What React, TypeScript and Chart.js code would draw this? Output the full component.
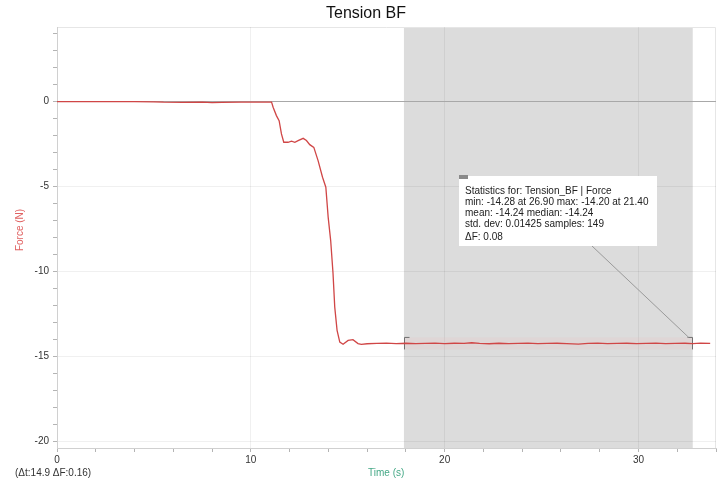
import React, { useEffect, useRef } from "react";
import { Chart, registerables } from "chart.js";

Chart.register(...registerables);

// Tension_BF run: time (s) and force (N)
const timeS = [
  0, 1, 2, 3, 4, 5, 5.5, 6.5, 7.5, 8, 8.5, 9.5, 10.5, 11.0,
  11.07, 11.15, 11.32, 11.46, 11.58, 11.7, 11.92, 12.1, 12.27, 12.44, 12.7,
  12.87, 13.04, 13.25, 13.47, 13.7, 13.87, 13.99, 14.12, 14.24, 14.33, 14.45,
  14.59, 14.76, 15.02, 15.27, 15.53, 15.7,
  16.0, 16.5, 17.0, 17.5, 18.0, 18.5, 19.0, 19.5, 20.0, 20.5, 21.0, 21.4,
  21.8, 22.3, 22.8, 23.3, 23.8, 24.3, 24.8, 25.3, 25.8, 26.3, 26.9, 27.4,
  27.9, 28.4, 28.9, 29.4, 29.9, 30.4, 30.9, 31.4, 31.9, 32.4, 32.8, 33.2, 33.7,
];

const forceN = [
  0.0, 0.0, 0.0, 0.0, 0.0, -0.01, -0.03, -0.04, -0.03, -0.05, -0.04, -0.03, -0.02, -0.02,
  -0.02, -0.33, -0.82, -1.12, -1.9, -2.39, -2.39, -2.33, -2.39, -2.29, -2.16,
  -2.29, -2.53, -2.69, -3.47, -4.45, -5.04, -6.8, -8.18, -10.1, -12.1, -13.47,
  -14.16, -14.29, -14.06, -14.02, -14.25, -14.29,
  -14.26, -14.24, -14.22, -14.25, -14.23, -14.25, -14.24, -14.22, -14.25, -14.23, -14.24, -14.2,
  -14.24, -14.26, -14.23, -14.25, -14.24, -14.22, -14.25, -14.24, -14.23, -14.25, -14.28, -14.24,
  -14.22, -14.25, -14.24, -14.23, -14.25, -14.24, -14.22, -14.25, -14.24, -14.23, -14.25, -14.22, -14.24,
];

// Axis labels
const xLabelValues = [0, 10, 20, 30];
const yLabelValues = [0, -5, -10, -15, -20];

// Selected region and its statistics
const selectionStart = 17.9;
const selectionEnd = 32.8;
const selectionMean = -14.24;
const statsLines = [
  "Statistics for: Tension_BF | Force",
  "min: -14.28 at 26.90 max: -14.20 at 21.40",
  "mean: -14.24 median: -14.24",
  "std. dev: 0.01425 samples: 149",
  "\u0394F: 0.08",
];
const cursorText = "(\u0394t:14.9 \u0394F:0.16)";

const FONT = "'Liberation Sans', Arial, Helvetica, sans-serif";
const GRID = "rgba(0,0,0,0.06)";

const decorPlugin = {
  id: "decor",
  beforeDraw(chart: any) {
    const { ctx, chartArea: a, scales } = chart;
    const x = scales.x;
    ctx.save();
    ctx.fillStyle = "#ffffff";
    ctx.fillRect(0, 0, chart.width, chart.height);
    const x0 = x.getPixelForValue(selectionStart);
    const x1 = x.getPixelForValue(selectionEnd);
    ctx.fillStyle = "#dcdcdc";
    ctx.fillRect(x0, a.top, x1 - x0, a.bottom - a.top);
    // frame on top and right
    ctx.strokeStyle = "#e6e6e6";
    ctx.lineWidth = 1;
    ctx.beginPath();
    ctx.moveTo(a.left, a.top + 0.5);
    ctx.lineTo(a.right - 0.5, a.top + 0.5);
    ctx.lineTo(a.right - 0.5, a.bottom);
    ctx.stroke();
    ctx.restore();
  },
  beforeDatasetsDraw(chart: any) {
    const { ctx, scales } = chart;
    const x0 = Math.round(scales.x.getPixelForValue(selectionStart)) + 0.5;
    const x1 = Math.round(scales.x.getPixelForValue(selectionEnd)) - 0.5;
    const yc = scales.y.getPixelForValue(selectionMean);
    ctx.save();
    ctx.fillStyle = "rgba(235,190,190,0.2)";
    ctx.fillRect(x0, yc - 6, x1 - x0, 12);
    ctx.strokeStyle = "#707070";
    ctx.lineWidth = 1;
    ctx.beginPath();
    ctx.moveTo(x0 + 5, yc - 6);
    ctx.lineTo(x0, yc - 6);
    ctx.lineTo(x0, yc + 6);
    ctx.moveTo(x1 - 5, yc - 6);
    ctx.lineTo(x1, yc - 6);
    ctx.lineTo(x1, yc + 6);
    ctx.stroke();
    ctx.restore();
  },
  afterDraw(chart: any) {
    const { ctx, scales } = chart;
    ctx.save();
    // title
    ctx.fillStyle = "#111";
    ctx.font = `16px ${FONT}`;
    ctx.textAlign = "center";
    ctx.textBaseline = "middle";
    ctx.fillText("Tension BF", 366, 14);

    // axis titles
    ctx.font = `10px ${FONT}`;
    ctx.fillStyle = "#e06262";
    ctx.save();
    ctx.translate(20, 230);
    ctx.rotate(-Math.PI / 2);
    ctx.fillText("Force (N)", 0, 0);
    ctx.restore();

    ctx.fillStyle = "#45a886";
    ctx.textAlign = "left";
    ctx.fillText("Time (s)", 368, 473);

    ctx.fillStyle = "#333";
    ctx.fillText(cursorText, 15, 473);

    // connector from statistics box to the selection bracket
    const xr = scales.x.getPixelForValue(selectionEnd);
    const yc = scales.y.getPixelForValue(selectionMean);
    ctx.strokeStyle = "#9a9a9a";
    ctx.lineWidth = 1;
    ctx.beginPath();
    ctx.moveTo(592, 246);
    ctx.lineTo(xr - 4, yc - 6);
    ctx.stroke();

    // statistics box
    ctx.fillStyle = "#ffffff";
    ctx.fillRect(459, 176, 198, 70);
    ctx.fillStyle = "#8a8a8a";
    ctx.fillRect(459, 175, 9, 4);
    ctx.fillStyle = "#222";
    ctx.font = `10px ${FONT}`;
    const ys = [191, 202, 213, 224, 237];
    statsLines.forEach((t, i) => ctx.fillText(t, 465, ys[i]));
    ctx.restore();
  },
};

export default function App() {
  const ref = useRef<HTMLCanvasElement>(null);

  useEffect(() => {
    if (!ref.current) return;
    const points = timeS.map((t, i) => ({ x: t, y: forceN[i] }));
    const xTickValues: number[] = [];
    for (let v = 0; v <= 34; v += 2) xTickValues.push(v);
    const yTickValues: number[] = [];
    for (let v = -20; v <= 4; v += 1) yTickValues.push(v);

    const chart = new Chart(ref.current, {
      type: "line",
      data: {
        datasets: [
          {
            data: points,
            borderColor: "#d04646",
            borderWidth: 1.3,
            pointRadius: 0,
            tension: 0,
            fill: false,
          },
        ],
      },
      options: {
        animation: false,
        responsive: false,
        devicePixelRatio: 1,
        layout: { padding: { top: 27, right: 8, bottom: 0, left: 0 } },
        plugins: { legend: { display: false }, tooltip: { enabled: false }, title: { display: false } },
        scales: {
          x: {
            type: "linear",
            min: 0,
            max: 34,
            afterFit: (s: any) => {
              s.height = 33;
            },
            afterBuildTicks: (s: any) => {
              s.ticks = xTickValues.map((v) => ({ value: v }));
            },
            ticks: {
              autoSkip: false,
              maxRotation: 0,
              padding: 2,
              color: "#333",
              font: { size: 10, family: FONT },
              callback: (v: any) => (xLabelValues.includes(Number(v)) ? String(v) : ""),
            },
            grid: {
              color: (c: any) =>
                c.tick && xLabelValues.includes(c.tick.value) && c.tick.value !== 0 ? GRID : "rgba(0,0,0,0)",
              tickColor: "#b4b4b4",
              tickLength: 4,
            },
            border: { color: "#d0d0d0" },
          },
          y: {
            type: "linear",
            min: -20.4,
            max: 4.4,
            afterFit: (s: any) => {
              s.width = 57;
            },
            afterBuildTicks: (s: any) => {
              s.ticks = yTickValues.map((v) => ({ value: v }));
            },
            ticks: {
              autoSkip: false,
              padding: 4,
              color: "#333",
              font: { size: 10, family: FONT },
              callback: (v: any) => (yLabelValues.includes(Number(v)) ? String(v) : ""),
            },
            grid: {
              color: (c: any) => {
                if (!c.tick) return "rgba(0,0,0,0)";
                if (c.tick.value === 0) return "#a8a8a8";
                return yLabelValues.includes(c.tick.value) ? GRID : "rgba(0,0,0,0)";
              },
              tickColor: "#b4b4b4",
              tickLength: 4,
            },
            border: { color: "#d0d0d0" },
          },
        },
      },
      plugins: [decorPlugin],
    } as any);
    return () => chart.destroy();
  }, []);

  return (
    <div style={{ position: "fixed", left: 0, top: 0, width: 724, height: 481, background: "#fff" }}>
      <canvas ref={ref} width={724} height={481} />
    </div>
  );
}
